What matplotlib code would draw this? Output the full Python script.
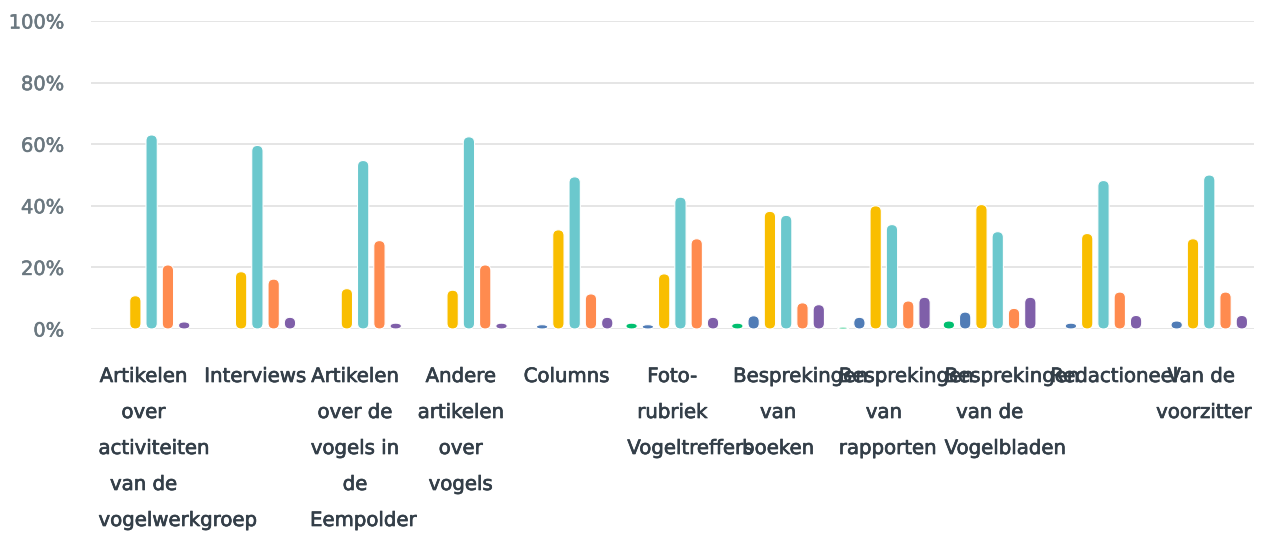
import matplotlib
matplotlib.use("Agg")
import matplotlib.pyplot as plt
import matplotlib.transforms as mtransforms
import matplotlib.patheffects as pe
from matplotlib.patches import FancyBboxPatch
import numpy as np

categories = ["Artikelen\nover\nactiviteiten\nvan de\nvogelwerkgroep", "Interviews",
              "Artikelen\nover de\nvogels in\nde\nEempolder", "Andere\nartikelen\nover\nvogels",
              "Columns", "Foto-\nrubriek\nVogeltreffers", "Besprekingen\nvan\nboeken",
              "Besprekingen\nvan\nrapporten", "Besprekingen\nvan de\nVogelbladen",
              "Redactioneel", "Van de\nvoorzitter"]

green = [0, 0, 0, 0, 0, 1.9, 1.9, 0.6, 2.6, 0, 0]
blue = [0, 0, 0, 0, 1.4, 1.4, 4.3, 3.8, 5.5, 1.9, 2.6]
yellow = [10.8, 18.6, 13.1, 12.6, 32.2, 17.9, 38.2, 40.0, 40.4, 31.0, 29.3]
teal = [63.0, 59.6, 54.7, 62.4, 49.4, 42.8, 36.9, 33.9, 31.6, 48.2, 50.0]
orange = [20.8, 16.2, 28.7, 20.8, 11.4, 29.3, 8.5, 9.1, 6.7, 12.0, 12.0]
purple = [2.3, 3.8, 1.9, 1.9, 3.8, 3.8, 7.9, 10.3, 10.3, 4.4, 4.4]

series = [green, blue, yellow, teal, orange, purple]
colors = ["#00bf6f", "#507cb6", "#f9be00", "#6bc8cd", "#ff8b4f", "#7f5fa9"]

W, H = 1262, 533
fig = plt.figure(figsize=(W / 100, H / 100), dpi=100)
ax_l, ax_r, ax_b, ax_t = 90.6, 1254.0, 329.0, 21.0
ax = fig.add_axes([ax_l / W, (H - ax_b) / H, (ax_r - ax_l) / W, (ax_b - ax_t) / H])
ax.set_xlim(-0.5, len(categories) - 0.5)
ax.set_ylim(0, 100)

px_x = (ax_r - ax_l) / len(categories)   # pixels per category
px_y = (ax_b - ax_t) / 100.0              # pixels per percent
aspect = px_x / px_y

slot = 0.154
bw = 0.107
x = np.arange(len(categories))
for i, (vals, col) in enumerate(zip(series, colors)):
    for xi, v in zip(x + (i - 2.5) * slot, vals):
        if v <= 0:
            continue
        a = aspect
        if v * px_y < bw * px_x:
            a = v / bw  # short bars become ellipses
        p = FancyBboxPatch((xi - bw / 2, 0), bw, v,
                           boxstyle="round,pad=0,rounding_size=%f" % (bw / 2),
                           mutation_aspect=a, facecolor=col, edgecolor="white",
                           linewidth=0.8, zorder=3)
        ax.add_patch(p)

ax.set_yticks(range(0, 101, 20))
ax.set_yticklabels(["%d%%" % t for t in range(0, 101, 20)], fontsize=14, color="#6b7880")
for t in ax.get_yticklabels():
    t.set_path_effects([pe.withStroke(linewidth=0.4, foreground="#6b7880")])
ax.set_xticks(x)
ax.set_xticklabels([])
ax.tick_params(axis="x", length=0)
ax.tick_params(axis="y", length=0, pad=19)
ax.grid(axis="y", color="#e3e3e3", linewidth=1.3, zorder=0)
ax.set_axisbelow(True)
for s in ax.spines.values():
    s.set_visible(False)

# category labels: lines centred in a 90px box, longer lines overflow to the right
trans = mtransforms.blended_transform_factory(ax.transData, ax.transAxes)
renderer = fig.canvas.get_renderer()
box = 90.0
for xi, label in zip(x, categories):
    for k, line in enumerate(label.split("\n")):
        y = -(382 + 36 * k - ax_b) / (ax_b - ax_t)
        t = ax.text(xi, y, line, transform=trans, ha="center", va="baseline",
                    fontsize=14.2, color="#333e48",
                    path_effects=[pe.withStroke(linewidth=0.5, foreground="#333e48")])
        if t.get_window_extent(renderer).width > box:
            t.set_ha("left")
            t.set_x(xi - box / 2 / px_x)

fig.savefig("out.png", dpi=100)
